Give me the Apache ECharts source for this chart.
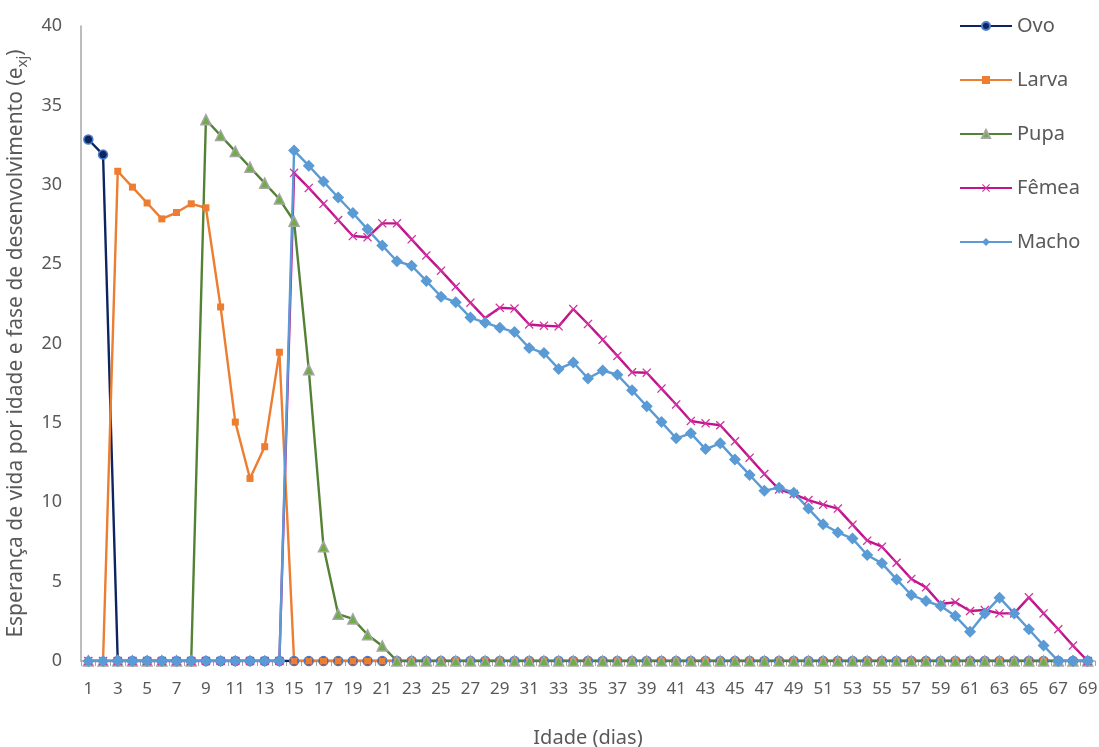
<!DOCTYPE html>
<html>
<head>
<meta charset="utf-8">
<script src="https://cdn.jsdelivr.net/npm/echarts@6/dist/echarts.min.js"></script>
<style>
    html, body { margin: 0; padding: 0; background: #fff; }
    #main { width: 1099px; height: 747px; }
</style>
</head>
<body>
<div id="main"></div>
<script>
// dias 1..69
var dias = [];
for (var d = 1; d <= 69; d++) { dias.push(String(d)); }

var ovo = [32.85, 31.9, 0, 0, 0, 0, 0, 0, 0, 0,
    0, 0, 0, 0, 0, 0, 0, 0, 0, 0,
    0, 0, 0, 0, 0, 0, 0, 0, 0, 0,
    0, 0, 0, 0, 0, 0, 0, 0, 0, 0,
    0, 0, 0, 0, 0, 0, 0, 0, 0, 0,
    0, 0, 0, 0, 0, 0, 0, 0, 0, 0,
    0, 0, 0, 0, 0, 0, 0, 0, 0];

var larva = [0, 0, 30.85, 29.85, 28.85, 27.85, 28.25, 28.8, 28.55, 22.3,
    15.05, 11.5, 13.5, 19.45, 0, 0, 0, 0, 0, 0,
    0, 0, 0, 0, 0, 0, 0, 0, 0, 0,
    0, 0, 0, 0, 0, 0, 0, 0, 0, 0,
    0, 0, 0, 0, 0, 0, 0, 0, 0, 0,
    0, 0, 0, 0, 0, 0, 0, 0, 0, 0,
    0, 0, 0, 0, 0, 0, 0, 0, 0];

var pupa = [0, 0, 0, 0, 0, 0, 0, 0, 34.1, 33.1,
    32.1, 31.1, 30.1, 29.1, 27.7, 18.35, 7.2, 2.95, 2.65, 1.65,
    0.95, 0, 0, 0, 0, 0, 0, 0, 0, 0,
    0, 0, 0, 0, 0, 0, 0, 0, 0, 0,
    0, 0, 0, 0, 0, 0, 0, 0, 0, 0,
    0, 0, 0, 0, 0, 0, 0, 0, 0, 0,
    0, 0, 0, 0, 0, 0, 0, 0, 0];

var femea = [0, 0, 0, 0, 0, 0, 0, 0, 0, 0,
    0, 0, 0, 0, 30.75, 29.8, 28.8, 27.78, 26.77, 26.69,
    27.57, 27.57, 26.56, 25.55, 24.59, 23.58, 22.57, 21.6, 22.25, 22.2,
    21.2, 21.12, 21.08, 22.17, 21.23, 20.24, 19.22, 18.19, 18.16, 17.16,
    16.16, 15.12, 14.97, 14.85, 13.84, 12.81, 11.78, 10.81, 10.52, 10.14,
    9.85, 9.6, 8.59, 7.58, 7.2, 6.19, 5.17, 4.64, 3.59, 3.7,
    3.15, 3.21, 3.0, 3.0, 4.01, 3.0, 2.0, 0.97, 0];

var macho = [0, 0, 0, 0, 0, 0, 0, 0, 0, 0,
    0, 0, 0, 0, 32.15, 31.2, 30.2, 29.2, 28.22, 27.19,
    26.17, 25.18, 24.9, 23.94, 22.95, 22.6, 21.63, 21.31, 21.0, 20.72,
    19.72, 19.4, 18.4, 18.8, 17.8, 18.3, 18.03, 17.05, 16.05, 15.05,
    14.03, 14.34, 13.35, 13.71, 12.7, 11.72, 10.73, 10.92, 10.6, 9.6,
    8.61, 8.1, 7.71, 6.68, 6.15, 5.14, 4.16, 3.78, 3.46, 2.83,
    1.85, 3.0, 3.99, 3.0, 2.0, 0.97, 0, 0, 0];

var fonte = 'Noto Sans';
var cinza = '#595959';
// simbolo "x" da Fêmea
var simboloX = 'path://M1,0L5,4L9,0L10,1L6,5L10,9L9,10L5,6L1,10L0,9L4,5L0,1Z';

var myChart = echarts.init(document.getElementById('main'));

var option = {
    backgroundColor: '#fff',
    animation: false,
    grid: { left: 81, right: 4, top: 26, bottom: 86, containLabel: false, outerBoundsMode: 'none' },
    legend: {
        orient: 'vertical',
        left: 954,
        top: 11,
        itemWidth: 52,
        itemHeight: 10,
        itemGap: 34,
        textStyle: { fontFamily: fonte, fontSize: 20, color: cinza },
        data: ['Ovo', 'Larva', 'Pupa', 'Fêmea', 'Macho']
    },
    xAxis: {
        type: 'category',
        data: dias,
        boundaryGap: true,
        name: 'Idade (dias)',
        nameLocation: 'middle',
        nameGap: 67,
        nameTextStyle: { fontFamily: fonte, fontSize: 20, color: cinza },
        axisLine: { lineStyle: { color: '#a6a6a6', width: 1.5 } },
        axisTick: { show: true, interval: 0, length: 5, lineStyle: { color: '#a6a6a6' } },
        axisLabel: { interval: 1, fontFamily: fonte, fontSize: 17, color: cinza, margin: 20 }
    },
    yAxis: {
        type: 'value',
        min: 0,
        max: 40,
        interval: 5,
        name: '{n|Esperança de vida por idade e fase de desenvolvimento (e}{s|xj}{n|)}',
        nameLocation: 'middle',
        nameGap: 50,
        nameTextStyle: {
            color: cinza,
            rich: {
                n: { fontFamily: fonte, fontSize: 21, color: cinza, lineHeight: 28, verticalAlign: 'middle' },
                s: { fontFamily: fonte, fontSize: 15, color: cinza, lineHeight: 28, verticalAlign: 'bottom', padding: [11, 0, 0, 0] }
            }
        },
        axisLine: { show: true, lineStyle: { color: '#a6a6a6', width: 1.5 } },
        axisTick: { show: false },
        splitLine: { show: false },
        axisLabel: { fontFamily: fonte, fontSize: 18, color: cinza, margin: 19 }
    },
    series: [{
        name: 'Ovo',
        type: 'line',
        data: ovo,
        symbol: 'circle',
        symbolSize: 9,
        showAllSymbol: true,
        lineStyle: { color: '#0c2461', width: 2.4 },
        itemStyle: { color: '#0c2461', borderColor: '#4a7cc9', borderWidth: 1.5 }
    }, {
        name: 'Larva',
        type: 'line',
        data: larva,
        symbol: 'rect',
        symbolSize: 7,
        showAllSymbol: true,
        lineStyle: { color: '#ed7d31', width: 2.4 },
        itemStyle: { color: '#ed7d31' }
    }, {
        name: 'Pupa',
        type: 'line',
        data: pupa,
        symbol: 'triangle',
        symbolSize: 10,
        showAllSymbol: true,
        lineStyle: { color: '#548235', width: 2.4 },
        itemStyle: { color: '#70ad47', borderColor: '#a5a5a5', borderWidth: 1.5 }
    }, {
        name: 'Fêmea',
        type: 'line',
        data: femea,
        symbol: simboloX,
        symbolSize: 9,
        showAllSymbol: true,
        lineStyle: { color: '#c0148c', width: 2.4 },
        itemStyle: { color: '#d0329e' }
    }, {
        name: 'Macho',
        type: 'line',
        data: macho,
        symbol: 'diamond',
        symbolSize: 12,
        showAllSymbol: true,
        lineStyle: { color: '#5b9bd5', width: 2.4 },
        itemStyle: { color: '#5b9bd5' }
    }]
};

myChart.setOption(option);
</script>
</body>
</html>
